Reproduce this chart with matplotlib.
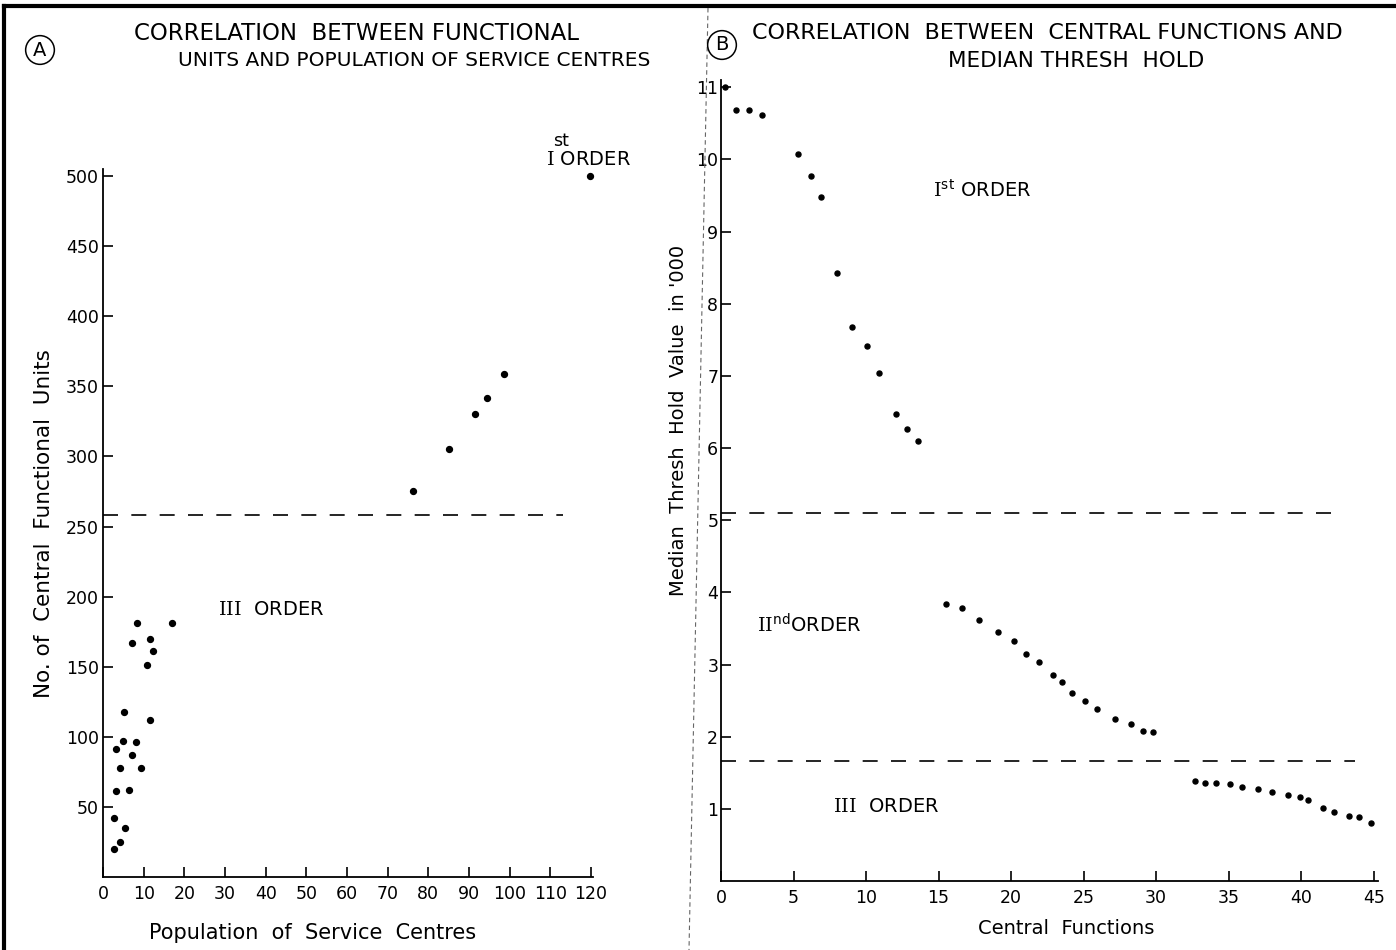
import numpy as np
import matplotlib.pyplot as plt
from matplotlib.lines import Line2D

plt.rcParams['font.family'] = 'DejaVu Sans'
plt.rcParams['mathtext.fontset'] = 'custom'
plt.rcParams['mathtext.rm'] = 'DejaVu Serif'
plt.rcParams['mathtext.sf'] = 'DejaVu Sans'

# panel A: population of service centres vs functional units
pop_a = [8.4, 16.9, 7.1, 11.5, 12.3, 10.8, 5.1, 11.5, 5.0, 8.2, 3.3, 7.1, 4.2, 9.4,
         3.2, 6.3, 2.8, 5.5, 4.2, 2.7,
         76.3, 85.1, 91.5, 94.5, 98.5, 119.8]
units_a = [181, 181, 167, 170, 161, 151, 118, 112, 97, 96, 91, 87, 78, 78,
           61, 62, 42, 35, 25, 20,
           275, 305, 330, 342, 359, 500]
thresh_a = 258

# panel B: central functions vs median threshold ('000)
func_b = [0.3, 1.0, 1.9, 2.8, 5.3, 6.2, 6.9, 8.0, 9.0, 10.1, 10.9, 12.1, 12.8, 13.6,
          15.5, 16.6, 17.8, 19.1, 20.2, 21.0, 21.9, 22.9, 23.5, 24.2, 25.1, 25.9,
          27.2, 28.3, 29.1, 29.8,
          32.7, 33.4, 34.1, 35.1, 35.9, 37.0, 38.0, 39.1, 39.9, 40.5, 41.5, 42.3,
          43.3, 44.0, 44.8]
median_b = [11.0, 10.69, 10.68, 10.62, 10.07, 9.77, 9.48, 8.42, 7.68, 7.42, 7.04, 6.47,
            6.27, 6.10,
            3.84, 3.78, 3.61, 3.45, 3.32, 3.15, 3.03, 2.86, 2.76, 2.61, 2.50, 2.38,
            2.25, 2.17, 2.08, 2.06,
            1.39, 1.36, 1.36, 1.35, 1.30, 1.27, 1.23, 1.19, 1.17, 1.12, 1.01, 0.95,
            0.90, 0.88, 0.81]
thresh_b = [5.1, 1.66]

W, H = 1396, 950
fig = plt.figure(figsize=(W / 100, H / 100), dpi=100)


def px(x, y):
    return x / W, 1 - y / H


def style(ax):
    for s in ['top', 'right']:
        ax.spines[s].set_visible(False)
    for s in ['left', 'bottom']:
        ax.spines[s].set_linewidth(1.3)
    ax.tick_params(direction='in', length=7, width=1.2, labelsize=12.5, pad=6)


# ---- panel A
# 0 at y=877 px, 500 at y=176 px
axA = fig.add_axes([103 / W, (H - 877) / H, (593 - 103) / W, (877 - 176) * 1.01 / H])
axA.scatter(pop_a, units_a, s=18, color='black', zorder=3, clip_on=False)
axA.plot([0, 113], [thresh_a, thresh_a], color='black', lw=1.2, dashes=(9, 8))
axA.set_xlim(0, 120.5)
axA.set_ylim(0, 505)
axA.set_xticks(np.arange(0, 121, 10))
axA.set_yticks(np.arange(50, 501, 50))
style(axA)
axA.tick_params(axis='y', pad=3)
axA.text(41.5, 191, r'$\mathrm{III}$  ORDER', fontsize=14, ha='center', va='center')
axA.text(119.5, 512, r'$\mathrm{I}$ ORDER', fontsize=14, ha='center', va='center',
         clip_on=False)
axA.text(112.6, 525, 'st', fontsize=12.5, ha='center', va='center', clip_on=False)

# ---- panel B
axB = fig.add_axes([721 / W, (H - 881) / H, (1378 - 721) / W, (881 - 80) / H])
axB.scatter(func_b, median_b, s=13, color='black', zorder=3, clip_on=False)
axB.plot([0, 42.6], [thresh_b[0]] * 2, color='black', lw=1.2, dashes=(9, 8))
axB.plot([0, 43.7], [thresh_b[1]] * 2, color='black', lw=1.2, dashes=(9, 8))
axB.set_xlim(0, 45.3)
axB.set_ylim(0, 11.1)
axB.set_xticks(np.arange(0, 46, 5))
axB.set_yticks(np.arange(1, 12, 1))
style(axB)
axB.tick_params(axis='y', pad=2)
axB.text(18.0, 9.58, r'$\mathrm{I}^{\mathsf{st}}$ ORDER', fontsize=14, ha='center', va='center')
axB.text(6.1, 3.55, r'$\mathrm{II}^{\mathsf{nd}}$ORDER', fontsize=14, ha='center', va='center')
axB.text(11.4, 1.03, r'$\mathrm{III}$  ORDER', fontsize=14, ha='center', va='center')

# ---- titles and axis labels
fig.text(*px(356, 33), 'CORRELATION  BETWEEN FUNCTIONAL', fontsize=16.5, ha='center', va='center')
fig.text(*px(414, 61), 'UNITS AND POPULATION OF SERVICE CENTRES', fontsize=14.5,
         ha='center', va='center')
fig.text(*px(1047, 33), 'CORRELATION  BETWEEN  CENTRAL FUNCTIONS AND', fontsize=16,
         ha='center', va='center')
fig.text(*px(1076, 61), 'MEDIAN THRESH  HOLD', fontsize=15.5, ha='center', va='center')
for lbl, (x, y) in [('A', (40, 50)), ('B', (722, 45))]:
    fig.text(*px(x, y), lbl, fontsize=14, ha='center', va='center',
             bbox=dict(boxstyle='circle,pad=0.25', fc='none', ec='black', lw=1.1))

fig.text(*px(44, 524), 'No. of  Central  Functional  Units', fontsize=15.5, rotation=90,
         ha='center', va='center')
fig.text(*px(313, 933), 'Population  of  Service  Centres', fontsize=15, ha='center', va='center')
fig.text(*px(679, 420), "Median  Thresh  Hold  Value  in '000", fontsize=14, rotation=90,
         ha='center', va='center')
fig.text(*px(1066, 929), 'Central  Functions', fontsize=14, ha='center', va='center')

# scanned page frame and the faint divider between panels
fig.add_artist(Line2D([4 / W, 1], [1 - 6 / H, 1 - 6 / H], color='black', lw=3))
fig.add_artist(Line2D([4 / W, 4 / W], [0, 1 - 6 / H], color='black', lw=3))
fig.add_artist(Line2D([708 / W, 689 / W], [1 - 8 / H, 0], color='0.4', lw=0.8, ls=(0, (4, 3))))

fig.savefig('out.png', dpi=100)
